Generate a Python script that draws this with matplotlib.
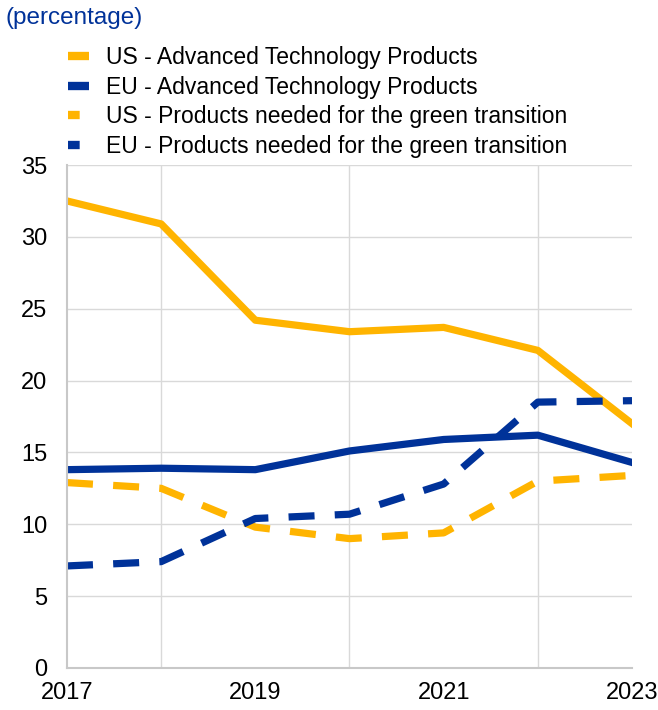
import numpy as np
import matplotlib.pyplot as plt
from matplotlib.lines import Line2D

plt.rcParams['font.family'] = ['Liberation Sans', 'DejaVu Sans']

years = [2017, 2018, 2019, 2020, 2021, 2022, 2023]
us_atp = [32.5, 30.9, 24.2, 23.4, 23.7, 22.1, 17.0]
eu_atp = [13.8, 13.9, 13.8, 15.1, 15.9, 16.2, 14.3]
us_green = [12.9, 12.5, 9.8, 9.0, 9.4, 13.0, 13.4]
eu_green = [7.1, 7.4, 10.4, 10.7, 12.8, 18.5, 18.6]

labels = ['US - Advanced Technology Products',
          'EU - Advanced Technology Products',
          'US - Products needed for the green transition',
          'EU - Products needed for the green transition']

orange = '#FFB400'
blue = '#003299'

fig = plt.figure(figsize=(6.58, 7.10), dpi=100)
ax = fig.add_axes([0.1018, 0.0592, 0.8587, 0.7084])

dash = (0, (3.6, 2.8))
ax.plot(years, us_atp, color=orange, lw=5.2)
ax.plot(years, eu_atp, color=blue, lw=5.2)
ax.plot(years, us_green, color=orange, lw=5.2, ls=dash, dash_capstyle='butt')
ax.plot(years, eu_green, color=blue, lw=5.2, ls=dash, dash_capstyle='butt')

ax.set_xlim(2017, 2023)
ax.set_ylim(0, 35)
ax.set_yticks(np.arange(0, 36, 5))
ax.set_xticks(years, minor=True)
ax.set_xticks([2017, 2019, 2021, 2023])
ax.grid(axis='y', color='#d9d9d9', lw=1)
ax.grid(axis='x', which='minor', color='#d9d9d9', lw=1)
ax.set_axisbelow(True)
ax.tick_params(which='both', length=0, labelsize=17, colors='black')
ax.tick_params(axis='x', pad=10)
ax.tick_params(axis='y', pad=14)
for s in ['top', 'right']:
    ax.spines[s].set_visible(False)
for s in ['left', 'bottom']:
    ax.spines[s].set_color('#c8c8c8')
    ax.spines[s].set_linewidth(1.5)

fig.text(0.008, 0.974, '(percentage)', color=blue, fontsize=17.5, va='center')

# legend proxies: short bar for solid, two squares for dashed
short = (0, (1.4, 1.3))
handles = [Line2D([0, 1], [0, 0], color=orange, lw=6, ls='solid', solid_capstyle='butt'),
           Line2D([0, 1], [0, 0], color=blue, lw=6, ls='solid', solid_capstyle='butt'),
           Line2D([0, 1], [0, 0], color=orange, lw=6, ls=short, dash_capstyle='butt'),
           Line2D([0, 1], [0, 0], color=blue, lw=6, ls=short, dash_capstyle='butt')]
fig.legend(handles, labels, loc='upper left', bbox_to_anchor=(0.09, 0.948), frameon=False,
           fontsize=16.5, handlelength=0.9, handletextpad=0.75, labelspacing=0.29,
           borderaxespad=0)

fig.savefig('out.png', dpi=100)
